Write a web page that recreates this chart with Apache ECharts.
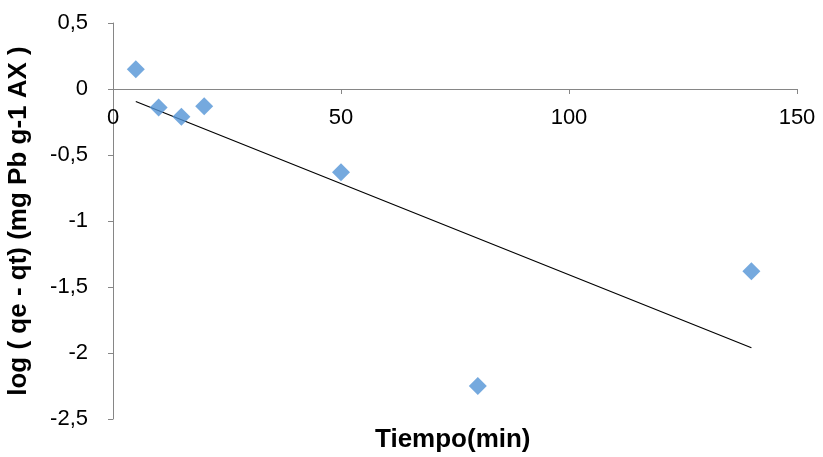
<!DOCTYPE html>
<html>
<head>
<meta charset="utf-8">
<script src="https://cdn.jsdelivr.net/npm/echarts@6/dist/echarts.min.js"></script>
<style>
html,body{margin:0;padding:0;background:#fff;}
#chart{width:823px;height:457px;}
</style>
</head>
<body>
<div id="chart"></div>
<script>
// Data
const timeMin = [5, 10, 15, 20, 50, 80, 140];
const logQeQt = [0.15, -0.14, -0.21, -0.13, -0.63, -2.25, -1.38];
// Linear trend line end points
const trendX = [5, 140];
const trendY = [-0.095, -1.96];
const xTicks = [0, 50, 100, 150];
const yTicks = [-2.5, -2, -1.5, -1, -0.5, 0, 0.5];

const pts = timeMin.map((x, i) => [x, logQeQt[i]]);
const trend = trendX.map((x, i) => [x, trendY[i]]);

const font = 'Liberation Sans, Arial, sans-serif';
const axisColor = '#868686';

const chart = echarts.init(document.getElementById('chart'), null, {renderer: 'canvas'});
chart.setOption({
  animation: false,
  backgroundColor: '#ffffff',
  grid: {left: 113, right: 26, top: 23, bottom: 38, containLabel: false, outerBoundsMode: 'none'},
  xAxis: {
    type: 'value',
    min: xTicks[0], max: xTicks[xTicks.length - 1], interval: 50,
    axisLine: {onZero: true, lineStyle: {color: axisColor, width: 1}},
    axisTick: {show: true, length: 5, lineStyle: {color: axisColor}},
    axisLabel: {color: '#000', fontSize: 22, fontFamily: font, margin: -312},
    splitLine: {show: false}
  },
  yAxis: {
    type: 'value',
    min: yTicks[0], max: yTicks[yTicks.length - 1], interval: 0.5,
    name: 'log ( qe - qt) (mg Pb g-1 AX )',
    nameLocation: 'middle',
    nameGap: 81,
    nameTextStyle: {color: '#000', fontSize: 26, fontWeight: 'bold', fontFamily: font},
    axisLine: {show: true, onZero: false, lineStyle: {color: axisColor, width: 1}},
    axisTick: {show: true, length: 5, lineStyle: {color: axisColor}},
    axisLabel: {color: '#000', fontSize: 22, fontFamily: font, margin: 25,
      formatter: v => String(v).replace('.', ',')},
    splitLine: {show: false}
  },
  graphic: [{
    type: 'text',
    left: 375, top: 427,
    style: {text: 'Tiempo(min)', fill: '#000', font: 'bold 26px ' + font}
  }],
  series: [
    {
      type: 'line',
      data: trend,
      symbol: 'none',
      lineStyle: {color: '#000', width: 1.2},
      z: 1
    },
    {
      type: 'scatter',
      data: pts,
      symbol: 'diamond',
      symbolSize: 18,
      itemStyle: {color: '#5293D6'},
      z: 2
    }
  ]
});
</script>
</body>
</html>
